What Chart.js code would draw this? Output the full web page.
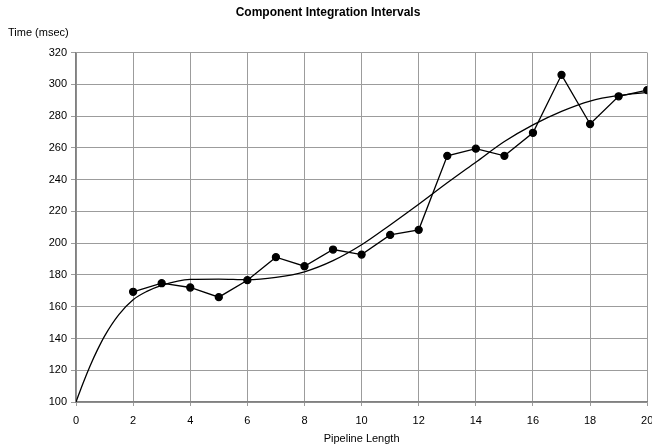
<!DOCTYPE html>
<html>
<head>
<meta charset="utf-8">
<script src="https://cdn.jsdelivr.net/npm/chart.js@4.4.1/dist/chart.umd.min.js"></script>
<style>
  html, body { margin: 0; padding: 0; background: #fff; }
  #wrap { width: 652px; height: 448px; }
</style>
</head>
<body>
<div id="wrap"><canvas id="chart" width="652" height="448"></canvas></div>
<script>
// measured intervals
const pipelineLengths = [2, 3, 4, 5, 6, 7, 8, 9, 10, 11, 12, 13, 14, 15, 16, 17, 18, 19, 20];
const timesMsec = [169.4, 174.8, 172.1, 166, 176.7, 191.2, 185.5, 196, 192.8, 205.2, 208.4,
                   255, 259.5, 255, 269.5, 306, 275, 292.5, 296.4];

// trend curve
const trendX = [0, 0.25, 0.5, 0.75, 1, 1.5, 2, 2.5, 3, 4, 5, 6, 7, 8, 9, 10, 11, 12, 13, 14, 15, 16, 17, 18, 19, 20];
const trendY = [100, 112, 123, 132.8, 141.5, 155, 164.4, 169.8, 173.5, 177.2, 177.4, 177, 178.5, 182, 189, 199,
                211.5, 224.5, 238, 251, 264, 274.5, 283, 289.5, 293, 295];

const xTicks = [0, 2, 4, 6, 8, 10, 12, 14, 16, 18, 20];
const yTicks = [100, 120, 140, 160, 180, 200, 220, 240, 260, 280, 300, 320];

const FONT = '"Liberation Sans", Arial, Helvetica, sans-serif';
const gridColour = '#9c9c9c';

const measured = pipelineLengths.map((x, i) => ({ x: x, y: timesMsec[i] }));
const trend = trendX.map((x, i) => ({ x: x, y: trendY[i] }));

new Chart(document.getElementById('chart').getContext('2d'), {
    type: 'line',
    data: {
        datasets: [
            {
                label: 'Measured',
                data: measured,
                borderColor: '#000',
                backgroundColor: '#000',
                borderWidth: 1.3,
                pointRadius: 3.5,
                pointHoverRadius: 3.5,
                tension: 0
            },
            {
                label: 'Trend',
                data: trend,
                borderColor: '#000',
                borderWidth: 1.3,
                pointRadius: 0,
                cubicInterpolationMode: 'monotone'
            }
        ]
    },
    options: {
        responsive: false,
        animation: false,
        layout: { padding: { left: 8, right: 4, top: 0, bottom: 0 } },
        plugins: {
            legend: { display: false },
            tooltip: { enabled: false },
            title: {
                display: true,
                text: 'Component Integration Intervals',
                color: '#000',
                font: { family: FONT, size: 12, weight: 'bold' },
                padding: { top: 5, bottom: 3 }
            },
            subtitle: {
                display: true,
                text: 'Time (msec)',
                align: 'start',
                color: '#000',
                font: { family: FONT, size: 11 },
                padding: { top: 4, bottom: 13 }
            }
        },
        scales: {
            x: {
                type: 'linear',
                min: 0,
                max: 20,
                afterBuildTicks: s => { s.ticks = xTicks.map(v => ({ value: v })); },
                afterFit: s => { s.paddingRight = 0; s.paddingLeft = 0; s.height = 46; },
                grid: { color: gridColour, lineWidth: 1, tickLength: 4, drawTicks: true },
                border: { color: '#808080', width: 1.5 },
                ticks: {
                    color: '#000',
                    padding: 8,
                    maxRotation: 0,
                    font: { family: FONT, size: 11 }
                },
                title: {
                    display: true,
                    text: 'Pipeline Length',
                    color: '#000',
                    font: { family: FONT, size: 11 },
                    padding: { top: 5, bottom: 2.4 }
                }
            },
            y: {
                type: 'linear',
                min: 100,
                max: 320,
                afterBuildTicks: s => { s.ticks = yTicks.map(v => ({ value: v })); },
                afterFit: s => { s.width = 68; },
                grid: { color: gridColour, lineWidth: 1, tickLength: 5 },
                border: { color: '#808080', width: 1.5 },
                ticks: {
                    color: '#000',
                    padding: 4,
                    font: { family: FONT, size: 11 }
                }
            }
        }
    }
});
</script>
</body>
</html>
